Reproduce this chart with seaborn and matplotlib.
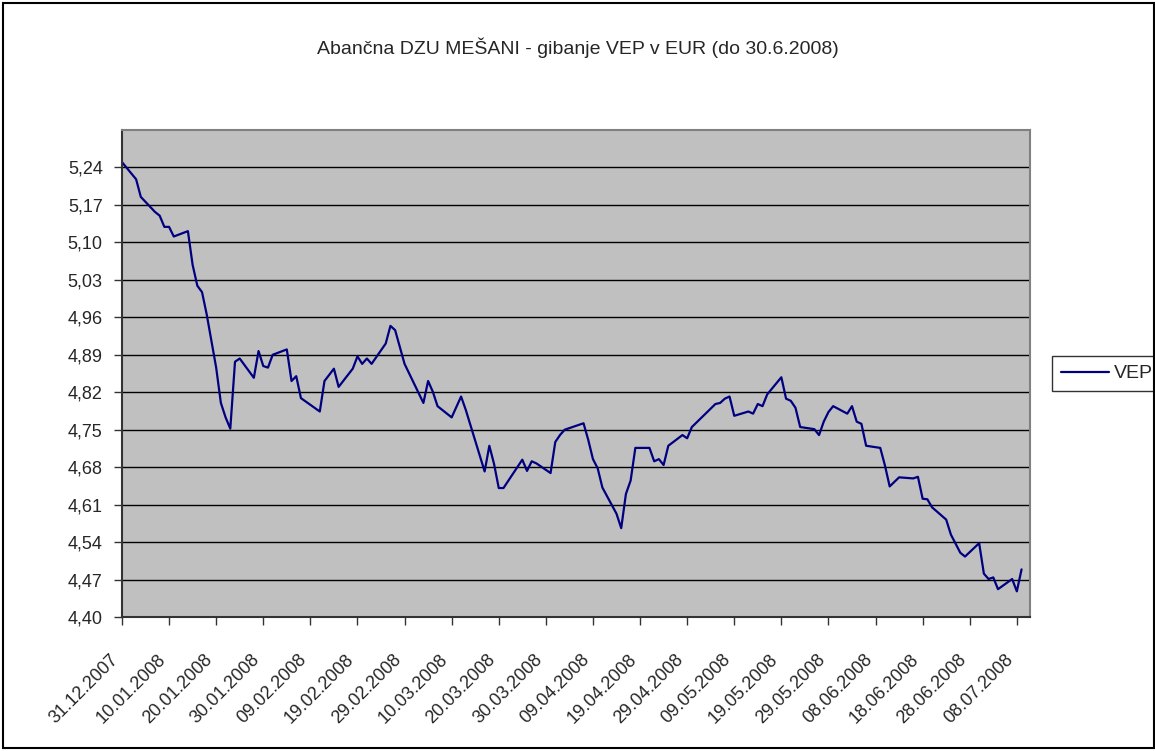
import pandas as pd
import seaborn as sns
import matplotlib.pyplot as plt
import matplotlib.dates as mdates
import matplotlib.transforms as mtransforms
from matplotlib.patches import Rectangle
from matplotlib.ticker import FuncFormatter

# data
dates = ['2007-12-31', '2008-01-03', '2008-01-04', '2008-01-07', '2008-01-08', '2008-01-09',
         '2008-01-10', '2008-01-11', '2008-01-14', '2008-01-15', '2008-01-16', '2008-01-17',
         '2008-01-18', '2008-01-20', '2008-01-21', '2008-01-22', '2008-01-23', '2008-01-24',
         '2008-01-25', '2008-01-28', '2008-01-29', '2008-01-30', '2008-01-31', '2008-02-01',
         '2008-02-04', '2008-02-05', '2008-02-06', '2008-02-07', '2008-02-11', '2008-02-12',
         '2008-02-14', '2008-02-15', '2008-02-18', '2008-02-19', '2008-02-20', '2008-02-21',
         '2008-02-22', '2008-02-25', '2008-02-26', '2008-02-27', '2008-02-29', '2008-03-04',
         '2008-03-05', '2008-03-06', '2008-03-07', '2008-03-10', '2008-03-12', '2008-03-13',
         '2008-03-17', '2008-03-18', '2008-03-19', '2008-03-20', '2008-03-21', '2008-03-25',
         '2008-03-26', '2008-03-27', '2008-03-28', '2008-03-31', '2008-04-01', '2008-04-02',
         '2008-04-03', '2008-04-07', '2008-04-08', '2008-04-09', '2008-04-10', '2008-04-11',
         '2008-04-14', '2008-04-15', '2008-04-16', '2008-04-17', '2008-04-18', '2008-04-21',
         '2008-04-22', '2008-04-23', '2008-04-24', '2008-04-25', '2008-04-28', '2008-04-29',
         '2008-04-30', '2008-05-05', '2008-05-06', '2008-05-07', '2008-05-08', '2008-05-09',
         '2008-05-12', '2008-05-13', '2008-05-14', '2008-05-15', '2008-05-16', '2008-05-19',
         '2008-05-20', '2008-05-21', '2008-05-22', '2008-05-23', '2008-05-26', '2008-05-27',
         '2008-05-28', '2008-05-29', '2008-05-30', '2008-06-02', '2008-06-03', '2008-06-04',
         '2008-06-05', '2008-06-06', '2008-06-09', '2008-06-10', '2008-06-11', '2008-06-13',
         '2008-06-16', '2008-06-17', '2008-06-18', '2008-06-19', '2008-06-20', '2008-06-23',
         '2008-06-24', '2008-06-26', '2008-06-27', '2008-06-30', '2008-07-01', '2008-07-02',
         '2008-07-03', '2008-07-04', '2008-07-07', '2008-07-08', '2008-07-09']
vep = [5.250, 5.218, 5.185, 5.157, 5.150, 5.129,
       5.129, 5.111, 5.121, 5.058, 5.019, 5.007,
       4.965, 4.866, 4.800, 4.773, 4.752, 4.877,
       4.883, 4.847, 4.897, 4.869, 4.866, 4.890,
       4.900, 4.841, 4.850, 4.809, 4.784, 4.841,
       4.864, 4.830, 4.864, 4.887, 4.873, 4.883,
       4.873, 4.911, 4.944, 4.936, 4.873, 4.800,
       4.841, 4.821, 4.794, 4.773, 4.812, 4.787,
       4.672, 4.720, 4.686, 4.641, 4.641, 4.694,
       4.673, 4.691, 4.687, 4.669, 4.727, 4.740,
       4.750, 4.762, 4.731, 4.695, 4.678, 4.642,
       4.593, 4.566, 4.630, 4.655, 4.716, 4.716,
       4.691, 4.695, 4.684, 4.720, 4.740, 4.734,
       4.755, 4.798, 4.800, 4.808, 4.812, 4.776,
       4.784, 4.780, 4.798, 4.794, 4.816, 4.848,
       4.808, 4.804, 4.791, 4.755, 4.751, 4.740,
       4.765, 4.783, 4.794, 4.780, 4.794, 4.765,
       4.761, 4.720, 4.716, 4.683, 4.644, 4.661,
       4.659, 4.662, 4.621, 4.620, 4.605, 4.582,
       4.554, 4.520, 4.513, 4.538, 4.481, 4.471,
       4.474, 4.452, 4.471, 4.448, 4.489]
y_ticks = [4.40, 4.47, 4.54, 4.61, 4.68, 4.75, 4.82, 4.89, 4.96, 5.03, 5.10, 5.17, 5.24]

df = pd.DataFrame({'date': pd.to_datetime(dates), 'VEP': vep})

sns.set_style('white')
plt.rcParams['font.family'] = ['Liberation Sans', 'DejaVu Sans']

fig = plt.figure(figsize=(11.55, 7.51), dpi=100)
ax = fig.add_axes([0.1056, 0.1784, 0.7862, 0.6485])
ax.set_facecolor('#C0C0C0')

sns.lineplot(data=df, x='date', y='VEP', ax=ax, color='#000080', linewidth=1.6, label='VEP')

start = pd.Timestamp('2007-12-31')
ax.set_xlim(start, start + pd.Timedelta(days=192.8))
ax.set_ylim(4.40, 5.31)

xt = pd.date_range(start, periods=20, freq='10D')
ax.set_xticks(xt)
ax.xaxis.set_major_formatter(mdates.DateFormatter('%d.%m.%Y'))
ax.set_yticks(y_ticks)
ax.yaxis.set_major_formatter(FuncFormatter(lambda v, p: f'{v:.2f}'.replace('.', ',')))

for v in y_ticks[1:]:
    ax.axhline(v, color='black', linewidth=1, zorder=0.5)

ax.tick_params(axis='both', direction='out', length=5.8, width=1, color='#333333',
               bottom=True, left=True)
ax.tick_params(axis='y', labelsize=13, pad=8)
ax.tick_params(axis='x', labelsize=13, pad=23)
shift = mtransforms.ScaledTranslation(-0.06, 0, fig.dpi_scale_trans)
for lbl in ax.get_xticklabels():
    lbl.set_rotation(45)
    lbl.set_ha('right')
    lbl.set_va('center')
    lbl.set_rotation_mode('anchor')
    lbl.set_transform(lbl.get_transform() + shift)

for s in ['left', 'bottom']:
    ax.spines[s].set_color('#333333')
    ax.spines[s].set_linewidth(1.5)
for s in ['top', 'right']:
    ax.spines[s].set_color('#808080')
    ax.spines[s].set_linewidth(1.5)

ax.set_xlabel('')
ax.set_ylabel('')

fig.text(0.5, 0.937, 'Abančna DZU MEŠANI - gibanje VEP v EUR (do 30.6.2008)',
         ha='center', va='center', fontsize=14)

leg = ax.legend(loc='upper left', bbox_to_anchor=(0.9108, 0.526), bbox_transform=fig.transFigure,
                frameon=True, fancybox=False, fontsize=14, handlelength=2.5,
                borderpad=0.45, handletextpad=0.25, borderaxespad=0)
leg.get_frame().set_edgecolor('black')
leg.get_frame().set_linewidth(1)

fig.patches.append(Rectangle((0.003, 0.004), 0.996, 0.992, transform=fig.transFigure,
                             fill=False, edgecolor='black', linewidth=1.5))

plt.savefig('out.png', dpi=100)
